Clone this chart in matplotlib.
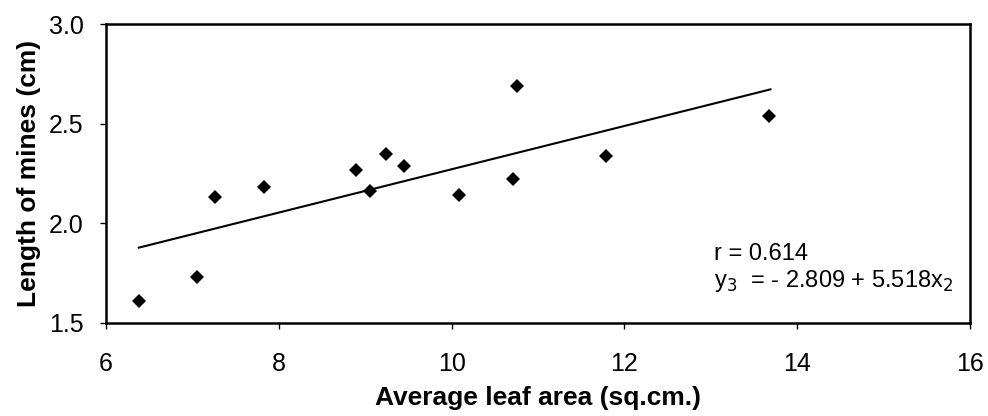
import matplotlib
matplotlib.use("Agg")
import matplotlib.pyplot as plt

# Data
leaf_area = [6.38, 7.05, 7.26, 7.83, 8.89, 9.06, 9.24, 9.45, 10.08, 10.76, 10.71, 11.79, 13.67]
mine_length = [1.61, 1.73, 2.13, 2.18, 2.27, 2.16, 2.35, 2.29, 2.14, 2.69, 2.22, 2.34, 2.54]
trend_x = [6.38, 13.69]
trend_y = [1.878, 2.672]
x_ticks = [6, 8, 10, 12, 14, 16]
y_ticks = [1.5, 2.0, 2.5, 3.0]
y_tick_labels = ["1.5", "2.0", "2.5", "3.0"]

plt.rcParams['font.family'] = ['Liberation Sans', 'DejaVu Sans']

fig = plt.figure(figsize=(9.88, 4.16), dpi=100)
ax = fig.add_axes([0.1073, 0.2236, 0.8745, 0.7187])

ax.plot(trend_x, trend_y, color='black', lw=1.5, zorder=2)
ax.plot(leaf_area, mine_length, linestyle='none', marker='D', ms=7.3, mew=0,
        color='black', zorder=3)

ax.set_xlim(6, 16)
ax.set_ylim(1.5, 3.0)
ax.set_xticks(x_ticks)
ax.set_yticks(y_ticks)
ax.set_yticklabels(y_tick_labels)
ax.tick_params(axis='x', direction='out', length=4, width=1, labelsize=18, pad=17)
ax.tick_params(axis='y', direction='out', length=4, width=1, labelsize=18, pad=12)
for s in ax.spines.values():
    s.set_linewidth(1.8)

ax.set_xlabel("Average leaf area (sq.cm.)", fontsize=19, fontweight='bold', labelpad=7)
ax.set_ylabel("Length of mines (cm)", fontsize=19, fontweight='bold', labelpad=6)

ax.text(0.704, 0.23, "r = 0.614", transform=ax.transAxes, fontsize=17,
        ha='left', va='center')
ax.text(0.704, 0.14, r"y$_3$  = - 2.809 + 5.518x$_2$", transform=ax.transAxes,
        fontsize=17, ha='left', va='center')

fig.savefig("out.png", dpi=100)
